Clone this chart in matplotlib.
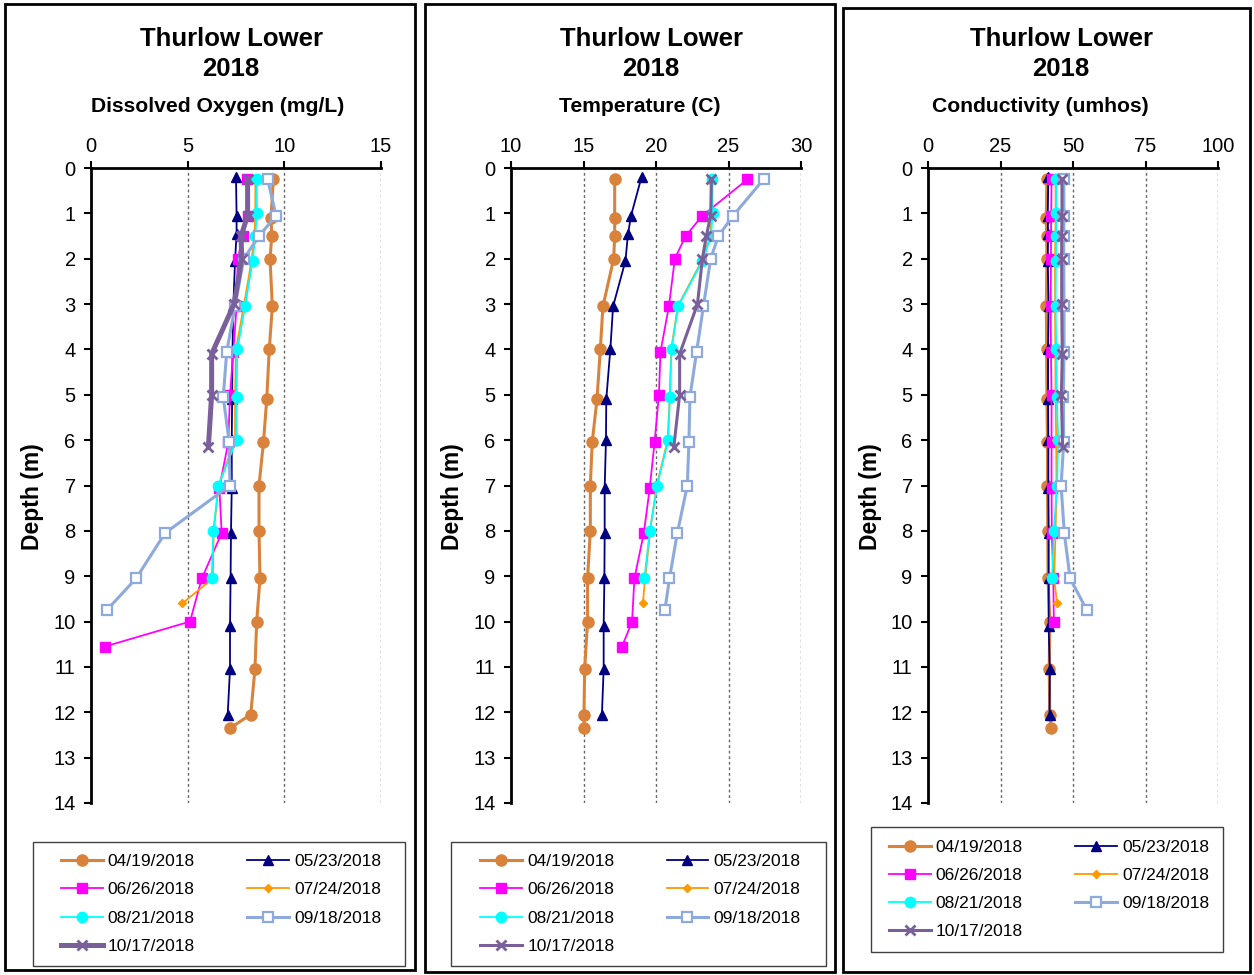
import numpy as np
import matplotlib.pyplot as plt
from matplotlib.patches import Rectangle

plt.rcParams['font.family'] = ['Liberation Sans', 'DejaVu Sans']

dates = ['04/19/2018', '05/23/2018', '06/26/2018', '07/24/2018',
         '08/21/2018', '09/18/2018', '10/17/2018']

# depths (m) per sampling date
depth_0419 = [0.25, 1.1, 1.5, 2.0, 3.05, 4.0, 5.1, 6.05, 7.0, 8.0, 9.05, 10.0, 11.05, 12.05, 12.35]
depth_0523 = [0.2, 1.05, 1.45, 2.05, 3.05, 4.0, 5.1, 6.0, 7.05, 8.05, 9.05, 10.1, 11.05, 12.05]
depth_0626 = [0.25, 1.05, 1.5, 2.0, 3.05, 4.05, 5.0, 6.05, 7.05, 8.05, 9.05, 10.0, 10.55]
depth_0724 = [0.25, 1.0, 1.5, 2.05, 3.05, 4.0, 5.05, 6.0, 7.0, 8.0, 9.05, 9.6]
depth_0821 = [0.25, 1.0, 1.5, 2.05, 3.05, 4.0, 5.05, 6.0, 7.0, 8.0, 9.05]
depth_0918 = [0.25, 1.05, 1.5, 2.0, 3.05, 4.05, 5.05, 6.05, 7.0, 8.05, 9.05, 9.75]
depth_1017 = [0.25, 1.05, 1.5, 2.0, 3.0, 4.1, 5.0, 6.15]
depth_0626_cond = [0.25, 1.05, 1.5, 2.0, 3.05, 4.05, 5.0, 6.05, 7.05, 8.05, 9.05, 10.0]

# dissolved oxygen (mg/L)
do_0419 = [9.43, 9.31, 9.35, 9.26, 9.38, 9.22, 9.09, 8.92, 8.69, 8.69, 8.74, 8.57, 8.48, 8.26, 7.19]
do_0523 = [7.5, 7.53, 7.53, 7.45, 7.36, 7.32, 7.3, 7.28, 7.28, 7.24, 7.22, 7.19, 7.19, 7.07]
do_0626 = [8.05, 8.1, 7.85, 7.59, 7.53, 7.36, 7.19, 7.1, 6.64, 6.76, 5.73, 5.12, 0.72]
do_0724 = [8.5, 8.5, 8.45, 8.3, 7.9, 7.5, 7.45, 7.45, 6.6, 6.35, 6.3, 4.72]
do_0821 = [8.57, 8.57, 8.5, 8.36, 7.97, 7.57, 7.53, 7.53, 6.59, 6.33, 6.24]
do_0918 = [9.14, 9.57, 8.69, 7.9, 7.45, 7.02, 6.84, 7.15, 7.19, 3.83, 2.33, 0.81]
do_1017 = [8.1, 8.1, 7.76, 7.8, 7.4, 6.24, 6.24, 6.07]

# temperature (C)
t_0419 = [17.15, 17.15, 17.15, 17.08, 16.34, 16.16, 15.93, 15.6, 15.47, 15.47, 15.28, 15.28, 15.08, 15.03, 15.03]
t_0523 = [19.0, 18.28, 18.07, 17.89, 17.04, 16.85, 16.57, 16.55, 16.46, 16.46, 16.44, 16.39, 16.39, 16.27]
t_0626 = [26.31, 23.2, 22.04, 21.3, 20.89, 20.31, 20.2, 19.9, 19.57, 19.16, 18.51, 18.35, 17.66]
t_0724 = [23.85, 23.85, 23.75, 23.15, 21.5, 21.05, 20.95, 20.8, 20.05, 19.6, 19.25, 19.09]
t_0821 = [23.89, 23.9, 23.8, 23.2, 21.53, 21.07, 20.96, 20.84, 20.08, 19.57, 19.2]
t_0918 = [27.42, 25.32, 24.3, 23.77, 23.27, 22.8, 22.34, 22.27, 22.16, 21.47, 20.93, 20.61]
t_1017 = [23.82, 23.77, 23.47, 23.2, 22.86, 21.63, 21.63, 21.23]

# conductivity (umhos)
c_0419 = [41.0, 40.8, 40.9, 41.0, 40.8, 40.9, 41.0, 41.2, 41.2, 41.3, 41.4, 42.0, 41.8, 42.0, 42.5]
c_0523 = [41.5, 41.3, 41.4, 41.3, 41.6, 41.4, 41.4, 41.5, 41.5, 41.6, 41.6, 41.6, 42.0, 41.9]
c_0626 = [42.6, 42.5, 42.4, 42.4, 42.3, 42.4, 42.6, 42.6, 42.6, 42.7, 43.2, 43.4]
c_0724 = [44.0, 44.0, 43.9, 43.8, 43.8, 43.9, 44.0, 44.2, 44.3, 44.0, 43.5, 44.5]
c_0821 = [44.2, 44.3, 44.2, 44.1, 44.0, 44.2, 44.4, 44.9, 44.5, 43.4, 42.8]
c_0918 = [46.8, 46.9, 46.8, 46.8, 46.9, 46.9, 46.7, 46.8, 45.9, 47.0, 49.0, 54.8]
c_1017 = [46.2, 46.2, 46.1, 46.1, 46.1, 46.3, 46.0, 46.4]

styles = [
    dict(color='#D9823B', marker='o', ms=8, lw=2.2),
    dict(color='#000080', marker='^', ms=7.5, lw=1.3),
    dict(color='#FF00FF', marker='s', ms=7, lw=1.3),
    dict(color='#FF9900', marker='D', ms=4.5, lw=1.3),
    dict(color='#00FFFF', marker='o', ms=7.5, lw=1.3),
    dict(color='#8EA9DB', marker='s', ms=6.5, lw=2.2, mfc='white', mew=1.6),
    dict(color='#7A609A', marker='x', ms=7, lw=2.2, mew=2),
]

panels = [
    dict(left=91, xlim=(0, 15), xticks=[0, 5, 10, 15], sub='Dissolved Oxygen (mg/L)',
         title_x=231, sub_x=218, ylab_x=33, frame=(5, 4, 415, 970), leg=(33, 842, 405, 966),
         purple_lw=3.6,
         series=[(do_0419, depth_0419), (do_0523, depth_0523), (do_0626, depth_0626),
                 (do_0724, depth_0724), (do_0821, depth_0821), (do_0918, depth_0918),
                 (do_1017, depth_1017)]),
    dict(left=511, xlim=(10, 30), xticks=[10, 15, 20, 25, 30], sub='Temperature (C)',
         title_x=651, sub_x=640, ylab_x=453, frame=(425, 4, 835, 972), leg=(451, 842, 826, 966),
         purple_lw=2.2,
         series=[(t_0419, depth_0419), (t_0523, depth_0523), (t_0626, depth_0626),
                 (t_0724, depth_0724), (t_0821, depth_0821), (t_0918, depth_0918),
                 (t_1017, depth_1017)]),
    dict(left=928, xlim=(0, 100), xticks=[0, 25, 50, 75, 100], sub='Conductivity (umhos)',
         title_x=1061, sub_x=1040, ylab_x=870, frame=(843, 8, 1250, 972), leg=(871, 827, 1223, 952),
         purple_lw=2.2,
         series=[(c_0419, depth_0419), (c_0523, depth_0523), (c_0626, depth_0626_cond),
                 (c_0724, depth_0724), (c_0821, depth_0821), (c_0918, depth_0918),
                 (c_1017, depth_1017)]),
]

W, H = 1254, 975
fig = plt.figure(figsize=(W / 100, H / 100), dpi=100)


def fx(px):
    return px / W


def fy(py):
    return 1 - py / H


for p in panels:
    ax = fig.add_axes([fx(p['left']), fy(803), 290 / W, 635 / H])
    for i, (vals, dep) in enumerate(p['series']):
        st = dict(styles[i])
        if i == 6:
            st['lw'] = p['purple_lw']
        ax.plot(vals, dep, label=dates[i], color=st['color'], marker=st['marker'],
                markersize=st['ms'], linewidth=st['lw'],
                markerfacecolor=st.get('mfc', st['color']),
                markeredgewidth=st.get('mew', 1), zorder=3 + i, clip_on=False)

    ax.set_xlim(*p['xlim'])
    ax.set_ylim(14, 0)
    ax.set_xticks(p['xticks'])
    ax.set_yticks(range(0, 15))
    ax.xaxis.tick_top()
    ax.tick_params(axis='both', labelsize=14.5, width=1.5, length=5, direction='out')
    ax.tick_params(axis='x', pad=4)
    ax.tick_params(axis='y', pad=6)
    for s in ['right', 'bottom']:
        ax.spines[s].set_visible(False)
    ax.spines['top'].set_linewidth(2)
    ax.spines['left'].set_linewidth(2)
    ax.grid(axis='x', color='#666666', linestyle=(0, (2, 2)), linewidth=1)
    ax.set_axisbelow(True)

    fig.text(fx(p['ylab_x']), fy(497), 'Depth (m)', rotation=90, fontsize=16.5,
             fontweight='bold', ha='center', va='center')
    fig.text(fx(p['title_x']), fy(39), 'Thurlow Lower', fontsize=18.5, fontweight='bold',
             ha='center', va='center')
    fig.text(fx(p['title_x']), fy(69), '2018', fontsize=18.5, fontweight='bold',
             ha='center', va='center')
    fig.text(fx(p['sub_x']), fy(106), p['sub'], fontsize=15.2, fontweight='bold',
             ha='center', va='center')

    x0, y0, x1, y1 = p['frame']
    fig.add_artist(Rectangle((fx(x0), fy(y1)), (x1 - x0) / W, (y1 - y0) / H,
                             transform=fig.transFigure, fill=False, ec='black', lw=2))

    lx0, ly0, lx1, ly1 = p['leg']
    fig.add_artist(Rectangle((fx(lx0), fy(ly1)), (lx1 - lx0) / W, (ly1 - ly0) / H,
                             transform=fig.transFigure, fill=False, ec='#404040', lw=1))
    h, l = ax.get_legend_handles_labels()
    order = [0, 2, 4, 6, 1, 3, 5]
    ax.legend([h[k] for k in order], [l[k] for k in order], ncol=2, frameon=False,
              loc='center', bbox_to_anchor=(fx((lx0 + lx1) / 2 + 2), fy((ly0 + ly1) / 2)),
              bbox_transform=fig.transFigure, fontsize=12.5, handlelength=2.4,
              handletextpad=0.3, columnspacing=3.0, labelspacing=0.75, borderpad=0)

fig.savefig('out.png', dpi=100)
